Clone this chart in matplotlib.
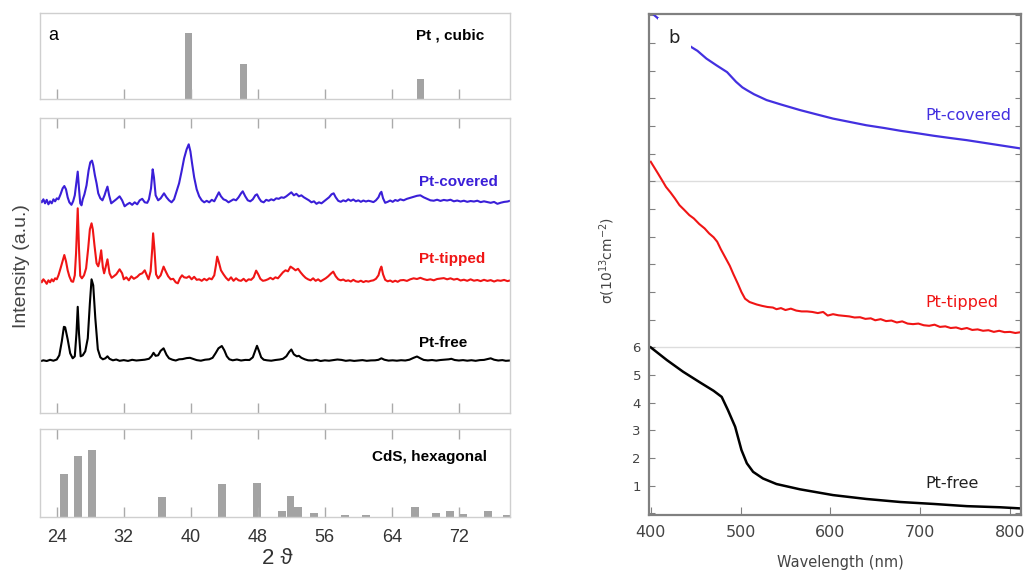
import matplotlib.pyplot as plt

# ---- panel a: XRD ----
# reference patterns (2theta, relative intensity)
pt_pos = [39.76, 46.24, 67.45]
pt_int = [100, 53.5, 30.8]

cds_pos = [24.84, 26.5, 28.2, 36.6, 43.7, 47.9, 50.9, 51.9, 52.8, 54.7,
           58.35, 60.9, 66.8, 69.3, 70.9, 72.5, 75.5, 77.8]
cds_int = [48.5, 70, 76, 23, 37, 39, 6.5, 24, 11.5, 4,
           2, 2, 11.5, 4, 6.5, 2.7, 7, 1.5]

# measured traces (2theta, intensity a.u., curves stacked)
pt_free = [
    (22.0, 52.0), (22.4, 53.0), (22.8, 52.3), (23.2, 53.5), (23.6, 52.6), (24.0, 53.8),
    (24.3, 58), (24.6, 72), (24.85, 86.5), (25.0, 86), (25.3, 74), (25.6, 60), (25.9, 55),
    (26.15, 57), (26.35, 80), (26.5, 106.5), (26.65, 80), (26.85, 57), (27.1, 58), (27.4, 62),
    (27.7, 75), (27.95, 110), (28.15, 134), (28.35, 128), (28.6, 95), (28.9, 64), (29.2, 56),
    (29.5, 54), (29.8, 55), (30.05, 57), (30.3, 54.5), (30.7, 53), (31.1, 53.8), (31.5, 52.5),
    (32.0, 53.2), (32.5, 52.4), (33.0, 53.5), (33.5, 52.8), (34.0, 53.2), (34.5, 53.6),
    (35.0, 54.5), (35.3, 57), (35.55, 60.5), (35.8, 57.5), (36.1, 58), (36.4, 62.5),
    (36.75, 65), (37.1, 58.5), (37.4, 55), (37.8, 53.6), (38.2, 52.8), (38.6, 54), (39.0, 54.2),
    (39.5, 55.2), (39.9, 55.5), (40.3, 54.3), (40.7, 53.2), (41.2, 52.6), (41.7, 53.6),
    (42.2, 54), (42.6, 55.5), (42.95, 60), (43.3, 65), (43.7, 67.3), (44.0, 63), (44.3, 57),
    (44.6, 54), (45.0, 53), (45.5, 53.8), (46.0, 52.8), (46.5, 53.4), (47.0, 53.3), (47.4, 56),
    (47.7, 63), (47.9, 67.5), (48.15, 62), (48.4, 56), (48.7, 53.6), (49.1, 53), (49.6, 52.6),
    (50.1, 53.3), (50.6, 53.8), (51.0, 54.5), (51.4, 57), (51.75, 61.5), (52.0, 63.8),
    (52.3, 59), (52.65, 57), (52.9, 57.5), (53.2, 55.5), (53.6, 54), (54.0, 53), (54.5, 52.8),
    (55.0, 53.5), (55.5, 52.3), (56.0, 53), (56.5, 52.6), (57.0, 53.2), (57.5, 53.8),
    (58.0, 53.4), (58.5, 52.5), (59.0, 53), (59.5, 52.4), (60.0, 52.8), (60.5, 53.2),
    (61.0, 52.5), (61.5, 52.9), (62.0, 53), (62.4, 53.5), (62.75, 55), (63.1, 53.6),
    (63.6, 52.7), (64.1, 53), (64.6, 52.6), (65.1, 53.1), (65.6, 52.8), (66.1, 53.6),
    (66.6, 55.5), (67.0, 56.8), (67.4, 55), (67.8, 53.4), (68.3, 52.9), (68.8, 53.3),
    (69.3, 52.7), (69.8, 53.3), (70.3, 53.6), (70.8, 54), (71.1, 54.5), (71.5, 53.3),
    (72.0, 52.8), (72.5, 53.2), (73.0, 52.6), (73.5, 53.1), (74.0, 52.5), (74.5, 53.2),
    (75.0, 53.4), (75.4, 54.2), (75.8, 55), (76.2, 53.6), (76.7, 52.8), (77.2, 53.2),
    (77.6, 52.5), (78.1, 52.8),
]

pt_tipped = [
    (22.0, 133.5), (22.2, 131), (22.4, 134), (22.6, 132), (22.8, 129.5), (23.0, 133),
    (23.2, 131), (23.4, 134), (23.6, 132), (23.8, 135), (24.0, 134), (24.2, 138), (24.45, 145),
    (24.75, 154), (24.9, 158.3), (25.1, 152), (25.3, 143), (25.5, 137), (25.75, 132),
    (25.95, 131.5), (26.15, 138), (26.3, 160), (26.5, 205), (26.65, 165), (26.8, 137.5),
    (27.0, 135), (27.25, 138), (27.5, 145), (27.75, 165), (27.95, 184), (28.15, 190),
    (28.3, 184), (28.5, 168), (28.75, 150), (28.95, 147), (29.1, 152), (29.3, 163),
    (29.5, 146), (29.65, 140), (29.8, 145), (30.05, 154), (30.3, 140), (30.55, 135.5),
    (30.8, 137), (31.1, 139), (31.5, 144), (31.8, 140), (32.0, 134), (32.3, 136), (32.6, 133),
    (32.9, 137), (33.2, 134.5), (33.6, 136.5), (33.9, 139), (34.2, 140), (34.5, 143),
    (34.7, 139), (34.95, 134), (35.2, 142), (35.4, 165), (35.5, 180), (35.65, 165),
    (35.85, 139), (36.1, 135), (36.4, 138), (36.75, 146.7), (37.0, 142), (37.3, 137),
    (37.6, 134), (37.9, 134.5), (38.2, 131), (38.45, 130), (38.7, 135), (38.95, 138),
    (39.2, 136), (39.5, 135.5), (39.8, 137), (40.1, 134), (40.4, 136.5), (40.7, 133.5),
    (41.0, 134), (41.3, 132.5), (41.6, 134.5), (41.9, 133), (42.2, 135), (42.5, 134),
    (42.8, 138), (43.0, 148), (43.15, 156.7), (43.35, 151), (43.6, 143), (43.9, 139),
    (44.2, 135.5), (44.5, 133), (44.8, 136), (45.1, 132.5), (45.4, 135), (45.7, 133),
    (46.0, 132.5), (46.3, 134.5), (46.6, 132), (46.9, 134), (47.2, 133.5), (47.5, 136),
    (47.8, 142.7), (48.05, 139), (48.3, 134.5), (48.6, 132.5), (48.9, 133), (49.2, 134),
    (49.5, 135.5), (49.8, 134), (50.1, 136), (50.4, 135), (50.7, 138), (51.0, 141),
    (51.3, 143), (51.6, 142), (51.9, 146.7), (52.2, 145), (52.5, 143), (52.8, 144.5),
    (53.1, 141), (53.4, 138), (53.7, 135.5), (54.0, 134), (54.3, 133), (54.6, 135),
    (54.9, 132.5), (55.2, 134), (55.5, 132), (55.8, 133.5), (56.1, 135), (56.4, 137),
    (56.7, 139.5), (57.0, 141.7), (57.3, 137), (57.6, 134), (57.9, 133), (58.2, 133.8),
    (58.5, 132.3), (58.8, 133), (59.1, 131.8), (59.4, 133.5), (59.7, 132), (60.0, 131.5),
    (60.3, 132.6), (60.6, 131.2), (60.9, 132.3), (61.2, 131.7), (61.5, 132.5), (61.8, 133),
    (62.1, 134.5), (62.4, 138), (62.6, 144), (62.75, 146.7), (62.95, 139), (63.2, 133.5),
    (63.5, 132), (63.8, 132.8), (64.1, 131.4), (64.4, 132.6), (64.7, 131.5), (65.0, 133),
    (65.4, 133.3), (65.8, 132.4), (66.2, 134), (66.6, 135), (67.0, 134.3), (67.4, 135.5),
    (67.8, 134.2), (68.2, 133.3), (68.6, 134), (69.0, 133), (69.4, 134.3), (69.8, 134.8),
    (70.2, 135.2), (70.6, 134), (71.0, 135), (71.4, 133.7), (71.8, 134.5), (72.2, 132.8),
    (72.6, 133.6), (73.0, 132.5), (73.4, 134), (73.8, 132.6), (74.2, 133.3), (74.6, 132.2),
    (75.0, 133.5), (75.4, 132.4), (75.8, 133.2), (76.2, 131.8), (76.6, 133), (77.0, 132.5),
    (77.4, 133.4), (77.8, 132.2), (78.1, 132.8),
]

pt_covered = [
    (22.0, 213), (22.2, 211), (22.4, 214), (22.6, 210), (22.8, 213.5), (23.0, 209),
    (23.2, 212), (23.4, 210), (23.6, 214), (23.8, 212), (24.0, 215), (24.2, 214),
    (24.45, 219), (24.7, 225), (24.9, 227.3), (25.1, 224), (25.3, 216), (25.5, 211),
    (25.75, 208.5), (25.95, 212), (26.15, 218), (26.3, 228), (26.5, 241.7), (26.65, 225),
    (26.8, 210), (26.95, 208), (27.1, 214), (27.3, 219), (27.55, 228), (27.8, 243),
    (28.0, 251), (28.2, 252.7), (28.35, 248), (28.55, 238), (28.75, 230), (28.95, 220),
    (29.2, 215), (29.45, 213), (29.7, 218), (29.85, 222), (30.05, 226.7), (30.25, 218),
    (30.5, 210), (30.8, 212), (31.1, 214), (31.5, 217), (31.8, 213), (32.1, 207),
    (32.4, 209), (32.7, 210.5), (33.0, 208.5), (33.3, 211), (33.6, 209), (33.9, 213),
    (34.2, 214.5), (34.5, 211), (34.8, 210.5), (35.0, 214), (35.25, 225), (35.45, 244),
    (35.6, 236), (35.8, 218), (36.1, 213), (36.4, 215), (36.8, 220), (37.1, 216),
    (37.4, 213), (37.7, 211), (38.0, 214), (38.3, 222), (38.6, 230), (38.9, 242),
    (39.2, 255), (39.5, 264), (39.75, 269), (39.95, 262), (40.15, 250), (40.4, 236),
    (40.7, 224), (41.0, 217), (41.3, 213), (41.6, 211), (41.9, 212.5), (42.2, 211),
    (42.5, 213.5), (42.8, 212), (43.1, 217), (43.35, 221), (43.6, 217), (43.9, 214),
    (44.2, 213), (44.5, 211), (44.8, 212.5), (45.1, 214), (45.4, 213), (45.7, 216),
    (46.0, 220), (46.2, 222), (46.5, 217), (46.8, 213), (47.1, 212), (47.4, 214),
    (47.7, 218), (47.9, 219), (48.15, 215), (48.4, 212), (48.7, 211), (49.0, 213.5),
    (49.3, 212.5), (49.6, 214), (49.9, 213), (50.2, 215), (50.5, 214.5), (50.8, 216),
    (51.1, 215.5), (51.4, 217), (51.7, 219), (52.0, 221), (52.3, 218), (52.6, 219.5),
    (52.9, 217), (53.2, 218), (53.5, 216), (53.8, 214.5), (54.1, 213), (54.4, 211),
    (54.7, 212), (55.0, 209.5), (55.3, 211), (55.6, 210), (55.9, 212), (56.2, 214),
    (56.5, 216), (56.8, 219), (57.05, 220), (57.3, 216), (57.6, 212.5), (57.9, 211.5),
    (58.2, 213), (58.5, 212), (58.8, 214), (59.1, 212.5), (59.4, 213.8), (59.7, 212),
    (60.0, 213), (60.3, 211.5), (60.6, 212.8), (60.9, 211.8), (61.2, 212.6), (61.5, 212),
    (61.8, 211.2), (62.1, 213), (62.4, 216), (62.6, 220), (62.75, 221.5), (62.95, 215),
    (63.2, 210.5), (63.5, 211.5), (63.8, 212.8), (64.1, 211.5), (64.4, 213.3), (64.7, 212.4),
    (65.0, 214), (65.4, 213), (65.8, 214.5), (66.2, 215.5), (66.6, 216.5), (67.0, 217.5),
    (67.4, 218), (67.8, 216), (68.2, 214.5), (68.6, 213), (69.0, 212.6), (69.4, 213.6),
    (69.8, 212.4), (70.2, 213.4), (70.6, 212.8), (71.0, 213.6), (71.4, 212), (71.8, 212.8),
    (72.2, 211.8), (72.6, 212.6), (73.0, 211.5), (73.4, 212.3), (73.8, 211.8), (74.2, 212.6),
    (74.6, 211.2), (75.0, 212), (75.4, 211.3), (75.8, 210.5), (76.2, 211.4), (76.6, 209.5),
    (77.0, 210.6), (77.4, 211.4), (77.8, 211.8), (78.1, 212.5),
]

xrd_ticks = [24, 32, 40, 48, 56, 64, 72]

# ---- panel b: sigma vs wavelength (curves stacked by 6) ----
free_wl = [400, 418, 436, 455, 470, 479, 486, 494, 501, 507, 514, 525, 540, 566,
           603, 640, 678, 715, 752, 789, 811]
free_sigma = [6.0, 5.54, 5.12, 4.73, 4.43, 4.21, 3.73, 3.13, 2.29, 1.81, 1.50, 1.26,
              1.06, 0.87, 0.66, 0.52, 0.41, 0.34, 0.26, 0.22, 0.18]

tipped_wl = [400, 404, 408, 413, 417, 422, 427, 432, 437, 443, 448, 454, 460, 465, 470,
             474, 478, 483, 488, 492, 497, 501, 505, 510, 518, 524, 530, 536, 540, 545,
             550, 556, 562, 568, 574, 580, 586, 592, 597, 603, 609, 615, 621, 627, 633,
             639, 645, 650, 656, 662, 668, 674, 680, 686, 692, 698, 704, 710, 716, 722,
             728, 734, 740, 746, 752, 758, 764, 770, 776, 782, 788, 794, 800, 806, 812]
tipped_sigma = [12.71, 12.5, 12.29, 12.02, 11.8, 11.6, 11.38, 11.14, 10.98, 10.78, 10.66,
                10.46, 10.3, 10.12, 9.98, 9.82, 9.55, 9.25, 8.95, 8.65, 8.3, 8.0, 7.76,
                7.64, 7.55, 7.5, 7.46, 7.44, 7.38, 7.42, 7.35, 7.4, 7.33, 7.30, 7.3, 7.28,
                7.24, 7.28, 7.15, 7.2, 7.16, 7.14, 7.12, 7.08, 7.09, 7.03, 7.05, 6.98, 7.02,
                6.95, 6.97, 6.9, 6.94, 6.86, 6.84, 6.86, 6.8, 6.78, 6.82, 6.74, 6.76, 6.7,
                6.72, 6.66, 6.7, 6.63, 6.65, 6.6, 6.62, 6.56, 6.6, 6.55, 6.56, 6.52, 6.55]

covered_wl = [400, 445, 452, 462, 473, 485, 495, 502, 507, 515, 529, 545, 566, 585, 603,
              620, 640, 660, 678, 697, 715, 733, 752, 770, 790, 808, 812]
covered_sigma = [18.12, 16.86, 16.72, 16.44, 16.2, 15.95, 15.6, 15.4, 15.3, 15.15, 14.94,
                 14.78, 14.58, 14.42, 14.27, 14.16, 14.03, 13.93, 13.83, 13.74, 13.65,
                 13.57, 13.49, 13.4, 13.3, 13.21, 13.19]

wl_ticks = [400, 500, 600, 700, 800]

blue = '#3a1fd8'
blue_b = '#4330e0'
red = '#f01515'
bar_grey = '#a3a3a3'
frame_grey = '#cfcfcf'

fig = plt.figure(figsize=(10.29, 5.73), dpi=100)
left_font = ['Liberation Sans', 'DejaVu Sans']

ax_top = fig.add_axes([0.0389, 0.8267, 0.4567, 0.1501])
ax_mid = fig.add_axes([0.0389, 0.2787, 0.4567, 0.5148])
ax_bot = fig.add_axes([0.0389, 0.0983, 0.4567, 0.1525])

for ax in (ax_top, ax_mid, ax_bot):
    ax.set_xlim(22, 78.1)
    ax.set_xticks(xrd_ticks)
    ax.set_yticks([])
    for s in ax.spines.values():
        s.set_color(frame_grey)
        s.set_linewidth(1.0)
    ax.tick_params(axis='x', direction='in', length=7, width=1, color='#aaaaaa',
                   labelbottom=False)

ax_top.bar(pt_pos, pt_int, width=0.85, color=bar_grey)
ax_top.set_ylim(0, 130)
ax_top.tick_params(axis='x', top=False, bottom=True)
ax_top.text(23.0, 0.736, 'a', transform=ax_top.get_xaxis_transform(), fontsize=13,
            va='center', family=left_font)
ax_top.text(66.9, 0.736, 'Pt , cubic', transform=ax_top.get_xaxis_transform(),
            fontsize=11, fontweight='bold', va='center', family=left_font)

for trace, col in ((pt_free, 'black'), (pt_tipped, red), (pt_covered, blue)):
    x, y = zip(*trace)
    ax_mid.plot(x, y, color=col, lw=1.5)
ax_mid.set_ylim(0, 295)
ax_mid.tick_params(axis='x', top=True, bottom=True)
ax_mid.text(67.2, 231, 'Pt-covered', color=blue, fontsize=11, fontweight='bold',
            va='center', family=left_font)
ax_mid.text(67.2, 154.3, 'Pt-tipped', color=red, fontsize=11, fontweight='bold',
            va='center', family=left_font)
ax_mid.text(67.2, 70.6, 'Pt-free', color='black', fontsize=11, fontweight='bold',
            va='center', family=left_font)

ax_bot.bar(cds_pos, cds_int, width=0.95, color=bar_grey)
ax_bot.set_ylim(0, 100)
ax_bot.tick_params(axis='x', top=True, bottom=True, labelbottom=True, pad=9,
                   labelsize=13, labelcolor='#333333')
for lab in ax_bot.get_xticklabels():
    lab.set_family(left_font)
ax_bot.text(61.6, 0.686, 'CdS, hexagonal', transform=ax_bot.get_xaxis_transform(),
            fontsize=11, fontweight='bold', va='center', family=left_font)

fig.text(22 / 1029, 1 - 266 / 573, 'Intensity (a.u.)', rotation=90, fontsize=14,
         color='#444444', ha='center', va='center', family=left_font)
fig.text(277 / 1029, 1 - 558 / 573, '2 \u03d1', fontsize=16, color='#333333',
         ha='center', va='center', family=left_font)

# ---- panel b ----
axb = fig.add_axes([0.631, 0.1012, 0.361, 0.8743])
axb.set_xlim(398.4, 812)
axb.set_ylim(-0.06, 18.05)
for s in axb.spines.values():
    s.set_color('#808080')
    s.set_linewidth(1.6)
axb.axhline(6, color='#dddddd', lw=1, zorder=0)
axb.axhline(12, color='#dddddd', lw=1, zorder=0)

axb.plot(free_wl, free_sigma, color='black', lw=1.8)
axb.plot(tipped_wl, tipped_sigma, color=red, lw=1.5)
axb.plot(covered_wl, covered_sigma, color=blue_b, lw=1.6)

axb.set_xticks(wl_ticks)
axb.set_yticks(range(0, 19))
axb.set_yticklabels([str(v) if 1 <= v <= 6 else '' for v in range(0, 19)])
axb.tick_params(axis='x', direction='in', length=6, color='#808080', labelsize=11.5,
                labelcolor='#444444', pad=7)
axb.tick_params(axis='y', direction='in', length=4, color='#808080', labelsize=9.5,
                labelcolor='#444444', right=True, pad=6)

# panel letter sits on a white box that hides the start of the blue curve
axb.text(426, 17.2, 'b', fontsize=13, ha='center', va='center', color='#222222',
         zorder=5, bbox=dict(boxstyle='square,pad=0.6', facecolor='white', edgecolor='none'))

axb.text(705.5, 14.39, 'Pt-covered', color=blue_b, fontsize=11.5, va='center')
axb.text(705.5, 7.61, 'Pt-tipped', color=red, fontsize=11.5, va='center')
axb.text(705.5, 1.08, 'Pt-free', color='#222222', fontsize=11.5, va='center')

fig.text(607 / 1029, 1 - 261 / 573, r'$\mathregular{\sigma(10^{13}cm^{-2})}$', rotation=90,
         fontsize=10, color='#444444', ha='center', va='center')
fig.text(840 / 1029, 1 - 563 / 573, 'Wavelength (nm)', fontsize=10.5, color='#444444',
         ha='center', va='center')

fig.savefig('out.png', dpi=100)
